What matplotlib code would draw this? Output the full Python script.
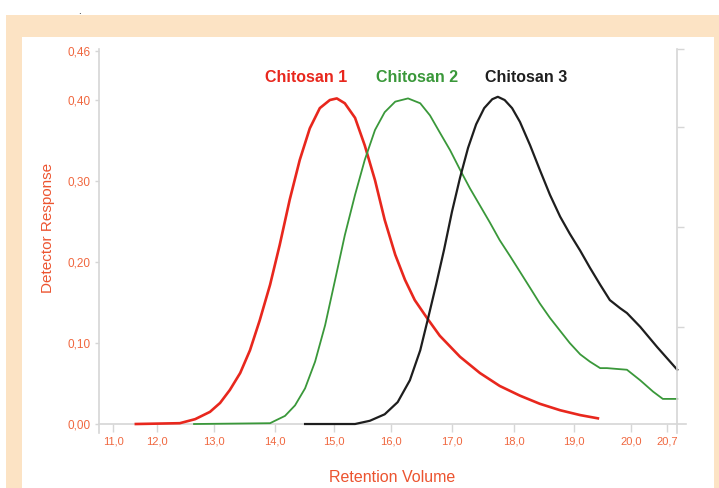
import numpy as np
import matplotlib
matplotlib.use("Agg")
import matplotlib.pyplot as plt
from matplotlib.patches import Rectangle

plt.rcParams['font.family'] = ['Liberation Sans', 'DejaVu Sans']

# retention volume (x) and detector response (y)
vol1 = [11.52, 12.40, 12.67, 12.93, 13.10, 13.26, 13.43, 13.59, 13.75, 13.92, 14.08, 14.25,
        14.42, 14.59, 14.76, 14.93, 15.05, 15.19, 15.37, 15.54, 15.72, 15.89, 16.07, 16.23,
        16.39, 16.59, 16.80, 17.13, 17.45, 17.77, 18.10, 18.43, 18.77, 19.11, 19.42]
resp1 = [0.000, 0.001, 0.006, 0.015, 0.026, 0.042, 0.063, 0.091, 0.128, 0.172, 0.221, 0.277,
         0.326, 0.365, 0.390, 0.400, 0.402, 0.396, 0.378, 0.344, 0.301, 0.252, 0.209, 0.178,
         0.153, 0.131, 0.109, 0.083, 0.063, 0.047, 0.035, 0.025, 0.017, 0.011, 0.007]

vol2 = [12.65, 13.92, 14.00, 14.17, 14.34, 14.51, 14.68, 14.85, 15.02, 15.19, 15.37, 15.54,
        15.72, 15.89, 16.07, 16.28, 16.48, 16.64, 16.80, 16.97, 17.13, 17.29, 17.45, 17.61,
        17.77, 17.94, 18.10, 18.27, 18.43, 18.60, 18.77, 18.93, 19.11, 19.28, 19.46, 19.58,
        19.75, 19.93, 20.18, 20.43, 20.62, 20.90]
resp2 = [0.000, 0.001, 0.004, 0.010, 0.023, 0.044, 0.077, 0.122, 0.178, 0.233, 0.283, 0.326,
         0.363, 0.385, 0.398, 0.402, 0.396, 0.381, 0.360, 0.338, 0.314, 0.291, 0.270, 0.249,
         0.227, 0.207, 0.188, 0.168, 0.149, 0.131, 0.115, 0.100, 0.086, 0.077, 0.069, 0.069,
         0.068, 0.067, 0.054, 0.040, 0.031, 0.031]

vol3 = [14.51, 15.37, 15.63, 15.89, 16.11, 16.31, 16.48, 16.61, 16.74, 16.87, 17.00, 17.13,
        17.26, 17.39, 17.52, 17.65, 17.74, 17.85, 17.97, 18.10, 18.27, 18.43, 18.60, 18.77,
        18.93, 19.11, 19.28, 19.46, 19.63, 19.81, 19.93, 20.18, 20.51, 20.90]
resp3 = [0.000, 0.000, 0.004, 0.012, 0.027, 0.054, 0.091, 0.131, 0.172, 0.215, 0.262, 0.304,
         0.341, 0.370, 0.390, 0.401, 0.404, 0.400, 0.390, 0.373, 0.344, 0.314, 0.283, 0.256,
         0.235, 0.214, 0.193, 0.172, 0.153, 0.143, 0.137, 0.120, 0.095, 0.067]

names = ['Chitosan 1', 'Chitosan 2', 'Chitosan 3']
colors = ['#e8271d', '#3a983a', '#1e1e1e']
label_x = [14.53, 16.43, 18.2]

xticks = [11.0, 12.0, 13.0, 14.0, 15.0, 16.0, 17.0, 18.0, 19.0, 20.0, 20.7]
xticklabels = ['11,0', '12,0', '13,0', '14,0', '15,0', '16,0', '17,0', '18,0', '19,0', '20,0', '20,7']
yticks = [0.0, 0.1, 0.2, 0.3, 0.4, 0.46]
yticklabels = ['0,00', '0,10', '0,20', '0,30', '0,40', '0,46']

# the printed axis is not evenly spaced, so map volume -> position piecewise
knots_vol = [10.0, 11.0, 12.0, 13.0, 14.0, 15.0, 16.0, 17.0, 18.0, 19.0, 20.0, 20.7, 22.0]
knots_pos = [69.0, 113.0, 157.0, 214.0, 275.0, 334.0, 391.0, 452.0, 514.0, 574.0, 631.0, 667.0, 734.0]

def fwd(x):
    return np.interp(x, knots_vol, knots_pos)

def inv(p):
    return np.interp(p, knots_pos, knots_vol)


fig = plt.figure(figsize=(7.19, 4.88), dpi=100)
fig.patch.set_facecolor('white')

# peach frame and white panel
fig.patches.append(Rectangle((6/719, 0), 713/719, 1 - 15/488, transform=fig.transFigure,
                             facecolor='#fce3c4', edgecolor='none', zorder=-20))
fig.patches.append(Rectangle((22/719, 0), 692/719, 1 - 37/488, transform=fig.transFigure,
                             facecolor='white', edgecolor='none', zorder=-10))
fig.text(79/719, 1 - 11/488, '.', fontsize=7, color='black', ha='center', va='center')

ax = fig.add_axes([99/719, 1 - 433/488, 587/719, 384/488])
ax.set_facecolor('none')
ax.set_xscale('function', functions=(fwd, inv))
ax.set_xlim(10.682, 21.07)
ax.set_ylim(-0.0111, 0.463)

gray = '#d6d6d6'
tickc = '#f0673f'

for v, r, c, lw in zip([vol1, vol2, vol3], [resp1, resp2, resp3], colors, [1.9, 1.3, 1.6]):
    ax.plot(v, r, color=c, lw=lw, zorder=3)

for s in ['top', 'right']:
    ax.spines[s].set_visible(False)
ax.spines['bottom'].set_position(('data', 0))
for s in ['left', 'bottom']:
    ax.spines[s].set_color(gray)
    ax.spines[s].set_linewidth(1.2)

ax.set_xticks(xticks)
ax.set_xticklabels(xticklabels)
ax.xaxis.set_minor_locator(plt.NullLocator())
ax.set_yticks(yticks)
ax.set_yticklabels(yticklabels)
ax.tick_params(axis='x', colors=gray, labelcolor=tickc, labelsize=8, length=6, width=1, pad=3)
ax.tick_params(axis='y', colors=gray, labelcolor=tickc, labelsize=8.5, length=3, width=1, pad=3)

ax.set_xlabel('Retention Volume', color='#ec5430', fontsize=11.5, labelpad=17)
ax.set_ylabel('Detector Response', color='#ec5430', fontsize=11)
ax.yaxis.set_label_coords(-0.075, 0.534)

# unlabeled right axis
ax2 = ax.twinx()
ax2.set_ylim(-0.06, 3.78)
for s in ['top', 'left', 'bottom']:
    ax2.spines[s].set_visible(False)
ax2.spines['right'].set_position(('data', 20.895))
ax2.spines['right'].set_color(gray)
ax2.spines['right'].set_linewidth(1.2)
ax2.set_yticks([1, 2, 3, 3.78])
ax2.set_yticklabels([])
ax2.tick_params(axis='y', colors=gray, length=5, width=1)

for name, c, lx in zip(names, colors, label_x):
    ax.text(lx, 0.428, name, color=c, fontsize=11.5, fontweight='bold', ha='center', va='center')

fig.savefig('out.png', dpi=100)
